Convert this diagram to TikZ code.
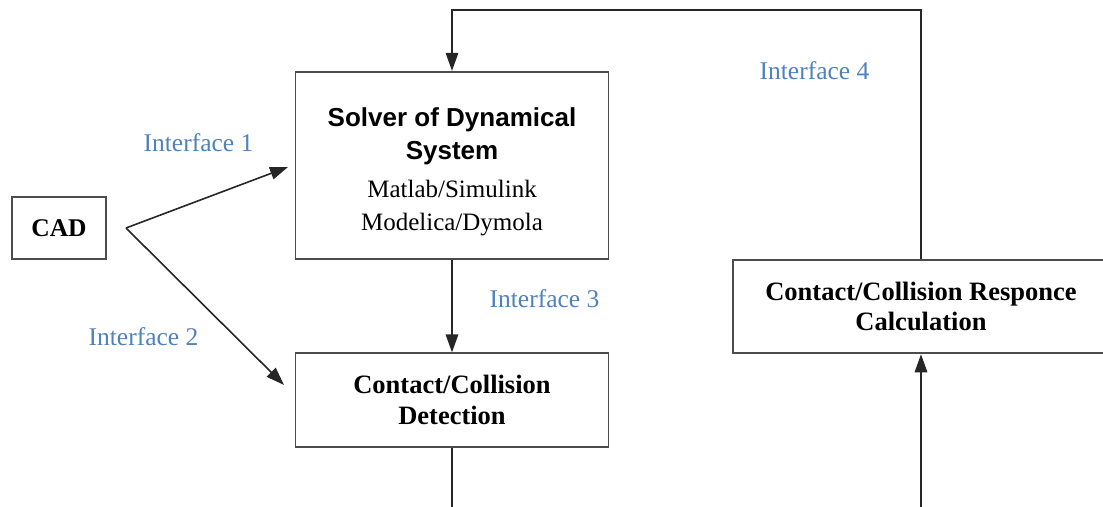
\documentclass[tikz,border=0pt]{standalone}
\usepackage{fontspec}
\setmainfont{Liberation Serif}
\setsansfont{Liberation Sans}
\usetikzlibrary{arrows.meta,calc}
\definecolor{ifblue}{RGB}{79,129,189}
\newcommand{\headsf}[1]{{\fontsize{26}{33}\selectfont\sffamily\bfseries #1}}
\newcommand{\plainrm}[1]{{\fontsize{25}{33}\selectfont\rmfamily\mdseries #1}}
\begin{document}
\begin{tikzpicture}[x=1pt,y=-1pt,
  every node/.style={font=\fontsize{25.5}{31}\selectfont},
  block/.style={draw=black!70, line width=1.8pt, inner sep=0pt, align=center,
    font=\fontsize{26.5}{30.5}\selectfont\bfseries},
  link/.style={draw=black!85, line width=1.6pt},
  arr/.style={link, -{Triangle[length=18pt,width=12.5pt]}},
  iface/.style={text=ifblue, inner sep=0pt}]
\useasboundingbox (0,0) rectangle (1103,506);

% blocks
\node[block, minimum width=94pt, minimum height=62pt, font=\fontsize{25.5}{31}\selectfont\bfseries]
  (cad) at (59,228) {CAD};
\node[block, minimum width=313pt, minimum height=187.5pt, font=\fontsize{26}{33}\selectfont]
  (solver) at (452,165.5)
  {\rule{0pt}{31pt}\headsf{Solver of Dynamical}\\\headsf{System}\\[5pt]
   \plainrm{Matlab/Simulink}\\\plainrm{Modelica/Dymola}};
\node[block, minimum width=313pt, minimum height=93.4pt] (detect) at (452,400)
  {Contact/Collision\\Detection};
\node[block, minimum width=376pt, minimum height=93.3pt] (resp) at (921,306.7)
  {Contact/Collision Responce\\Calculation};

% branch point and free ends
\coordinate (fork) at (126,228);
\coordinate (outL) at (452,510);
\coordinate (outR) at (921,510);
\coordinate (topR) at (921,10);

% connectors
\draw[arr, shorten >=7pt] (fork) -- ([yshift=1pt]solver.west);
\draw[arr, shorten >=15pt] (fork) -- ([yshift=4.5pt]detect.west);
\draw[arr] (solver.south) -- (solver.south |- detect.north);
\draw[link] (detect.south) -- (outL);
\draw[arr] (outR) -- (resp.south);
\draw[arr] (resp.north) -- (topR) -| (solver.north);

% interface labels
\node[iface] (if1) at (198.5,143) {Interface 1};
\node[iface] (if2) at (143.5,337) {Interface 2};
\node[iface] (if3) at (544.5,299) {Interface 3};
\node[iface] (if4) at (814.5,71) {Interface 4};
\end{tikzpicture}
\end{document}
